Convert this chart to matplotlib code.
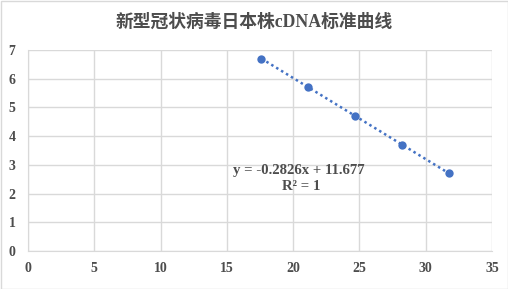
import numpy as np
import matplotlib
matplotlib.use("Agg")
import matplotlib.pyplot as plt
from matplotlib.patches import Rectangle

title = "新型冠状病毒日本株cDNA标准曲线"
x_vals = [17.61, 21.15, 24.69, 28.23, 31.77]
y_vals = [6.7, 5.7, 4.7, 3.7, 2.7]
x_ticks = [0, 5, 10, 15, 20, 25, 30, 35]
y_ticks = [0, 1, 2, 3, 4, 5, 6, 7]
eq_text = "y = -0.2826x + 11.677"
r2_text = "R² = 1"

W, H = 508, 289
fig = plt.figure(figsize=(W/100, H/100), dpi=100)
fig.patches.append(Rectangle((0.5/W, 0.5/H), 1-1.0/W, 1-1.0/H, transform=fig.transFigure,
                             fill=False, edgecolor="#D9D9D9", linewidth=1))
ax = fig.add_axes([28/W, 1-251/H, (492-28)/W, (251-50)/H])

blue = "#4472C4"
grey_text = "#4D4D4D"
serif = ["Liberation Serif", "Noto Sans CJK SC"]

coef = np.polyfit(x_vals, y_vals, 1)
xs = np.array([min(x_vals), max(x_vals)])
ax.plot(xs, np.polyval(coef, xs), linestyle=(0, (1, 1.3)), color=blue, linewidth=1.8, zorder=2)
ax.scatter(x_vals, y_vals, s=36, color=blue, zorder=3, linewidths=0)

ax.set_xlim(0, 35)
ax.set_ylim(0, 7)
ax.set_xticks(x_ticks)
ax.set_yticks(y_ticks)
ax.grid(True, color="#D9D9D9", linewidth=1)
ax.set_axisbelow(True)
for s in ["top", "right"]:
    ax.spines[s].set_visible(False)
for s in ["left", "bottom"]:
    ax.spines[s].set_color("#D9D9D9")
ax.tick_params(length=0)
ax.tick_params(axis="y", pad=9)
ax.tick_params(axis="x", pad=8)
for lab in ax.get_xticklabels() + ax.get_yticklabels():
    lab.set_fontfamily(serif)
    lab.set_fontweight("bold")
    lab.set_fontsize(10)
    lab.set_color(grey_text)

fig.text(0.5, 1-22/H, title, ha="center", va="center", fontsize=12.8, fontweight="bold",
         family=serif, color=grey_text)
ax.text(20.4, 2.79, eq_text, ha="center", va="center", fontsize=10.6, fontweight="bold",
        family=serif, color=grey_text)
ax.text(20.6, 2.24, r2_text, ha="center", va="center", fontsize=10.6, fontweight="bold",
        family=serif, color=grey_text)

fig.savefig("out.png", dpi=100)
